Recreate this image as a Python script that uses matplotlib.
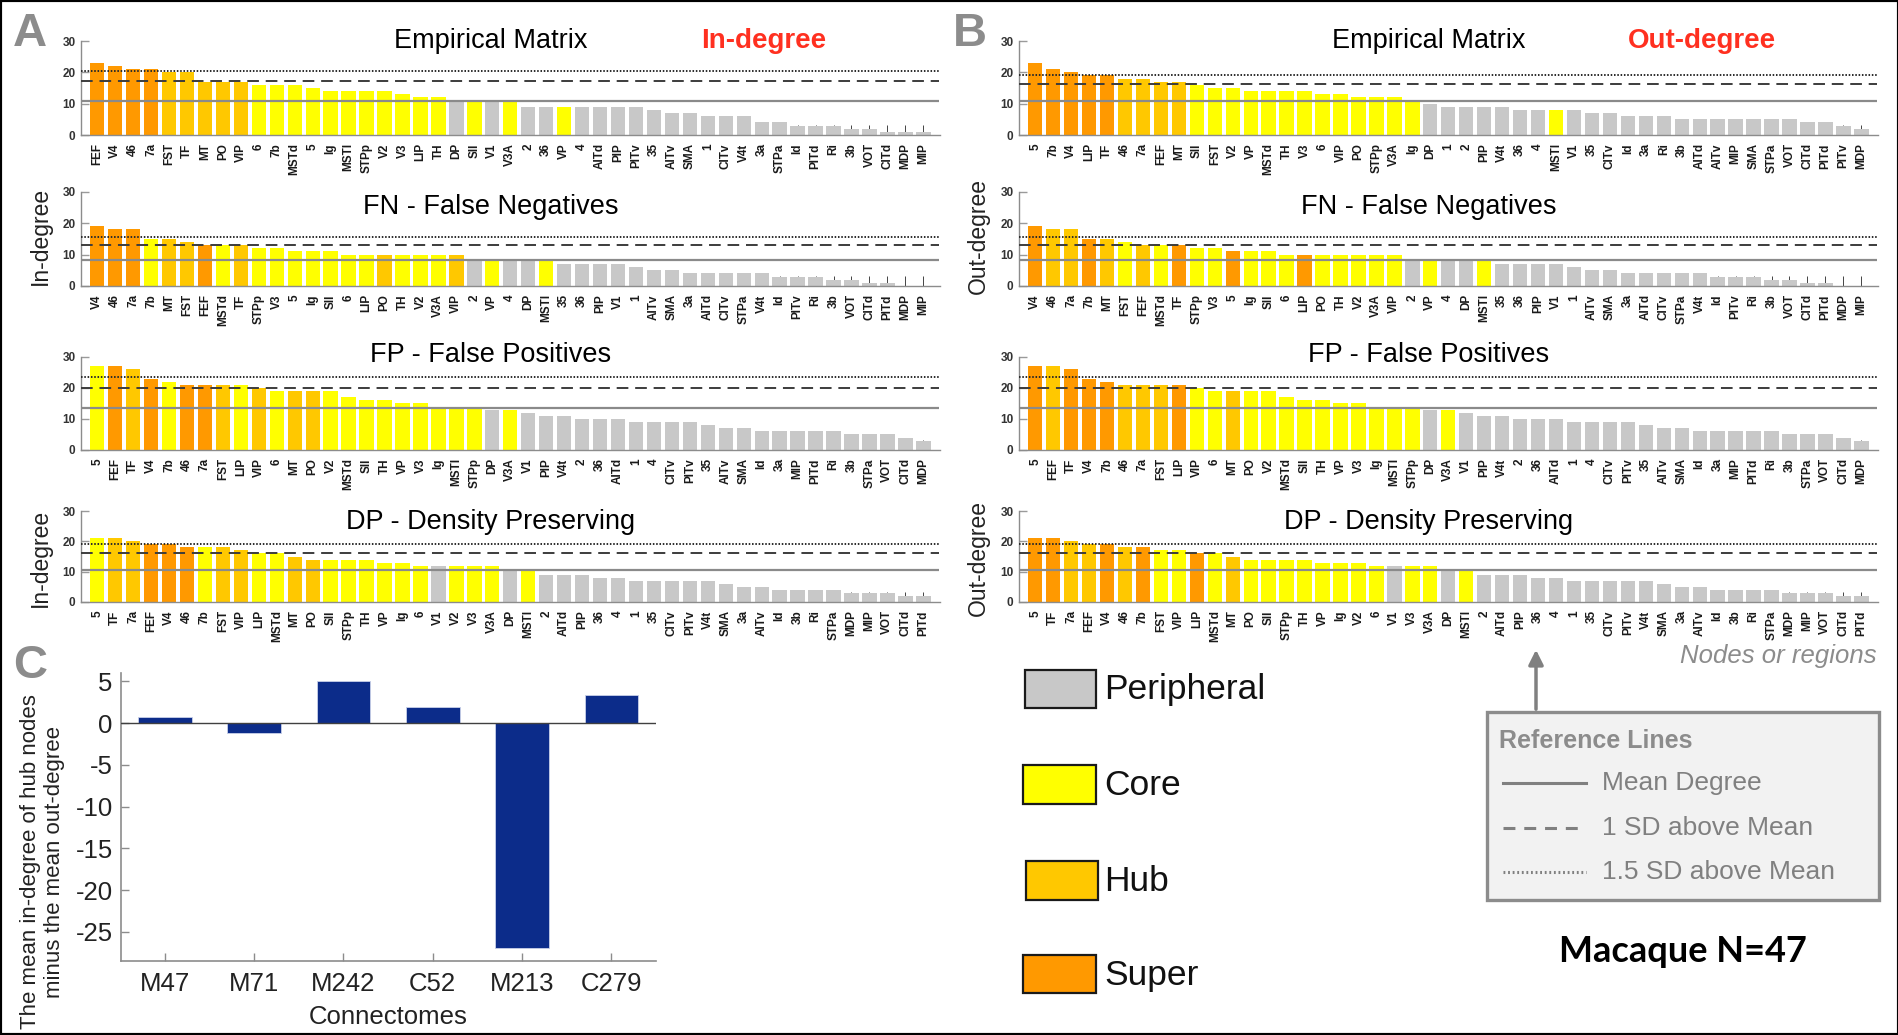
import numpy as np
import matplotlib
matplotlib.use("Agg")
import matplotlib.pyplot as plt
from matplotlib.patches import Rectangle, FancyArrowPatch
from matplotlib.lines import Line2D

plt.rcParams['font.family'] = ['Liberation Sans', 'DejaVu Sans']

W, H = 1899, 1035

# ---------------------------------------------------------------------------
# Node classes: S = super hub, H = hub, C = core, P = peripheral
CLASS_COLOURS = {'S': '#FF9900', 'H': '#FFC800', 'C': '#FFFF00', 'P': '#C8C8C8'}

# ---------------- A: in-degree ----------------
in_emp_regions = ["FEF", "V4", "46", "7a", "FST", "TF", "MT", "PO", "VIP", "6", "7b", "MSTd",
                  "5", "Ig", "MSTl", "STPp", "V2", "V3", "LIP", "TH", "DP", "SII", "V1", "V3A",
                  "2", "36", "VP", "4", "AITd", "PIP", "PITv", "35", "AITv", "SMA", "1", "CITv",
                  "V4t", "3a", "STPa", "Id", "PITd", "Ri", "3b", "VOT", "CITd", "MDP", "MIP"]
in_emp_values = [23, 22, 21, 21, 20, 20, 17, 17, 17, 16, 16, 16, 15, 14, 14, 14, 14, 13, 12, 12,
                 11, 11, 11, 11, 9, 9, 9, 9, 9, 9, 9, 8, 7, 7, 6, 6, 6, 4, 4, 3, 3, 3, 2, 2, 1, 1, 1]
in_emp_class = "SSSSHHHHHCCCCCCCCCCCPCPCPPCPPPPPPPPPPPPPPPPPPPP"
in_emp_ref = [11.0, 17.2, 20.3]

in_fn_regions = ["V4", "46", "7a", "7b", "MT", "FST", "FEF", "MSTd", "TF", "STPp", "V3", "5",
                 "Ig", "SII", "6", "LIP", "PO", "TH", "V2", "V3A", "VIP", "2", "VP", "4", "DP",
                 "MSTl", "35", "36", "PIP", "V1", "1", "AITv", "SMA", "3a", "AITd", "CITv", "STPa",
                 "V4t", "Id", "PITv", "Ri", "3b", "VOT", "CITd", "PITd", "MDP", "MIP"]
in_fn_values = [19, 18, 18, 15, 15, 14, 13, 13, 13, 12, 12, 11, 11, 11, 10, 10, 10, 10, 10, 10,
                10, 8, 8, 8, 8, 8, 7, 7, 7, 7, 6, 5, 5, 4, 4, 4, 4, 4, 3, 3, 3, 2, 2, 1, 1, 0, 0]
in_fn_class = "SSSCHHSCHCCCCCCCHCCCHPCPPCPPPPPPPPPPPPPPPPPPPPP"
in_fn_ref = [8.2, 13.1, 15.6]

in_fp_regions = ["5", "FEF", "TF", "V4", "7b", "46", "7a", "FST", "LIP", "VIP", "6", "MT", "PO",
                 "V2", "MSTd", "SII", "TH", "VP", "V3", "Ig", "MSTl", "STPp", "DP", "V3A", "V1",
                 "PIP", "V4t", "2", "36", "AITd", "1", "4", "CITv", "PITv", "35", "AITv", "SMA",
                 "Id", "3a", "MIP", "PITd", "Ri", "3b", "STPa", "VOT", "CITd", "MDP"]
in_fp_values = [27, 27, 26, 23, 22, 21, 21, 21, 21, 20, 19, 19, 19, 19, 17, 16, 16, 15, 15, 14,
                14, 14, 13, 13, 12, 11, 11, 10, 10, 10, 9, 9, 9, 9, 8, 7, 7, 6, 6, 6, 6, 6, 5, 5,
                5, 4, 3]
in_fp_class = "CSHSCSSHCHCHHCCCCCCCCCPCPPPPPPPPPPPPPPPPPPPPPPP"
in_fp_ref = [13.4, 20.1, 23.4]

in_dp_regions = ["5", "TF", "7a", "FEF", "V4", "46", "7b", "FST", "VIP", "LIP", "MSTd", "MT",
                 "PO", "SII", "STPp", "TH", "VP", "Ig", "6", "V1", "V2", "V3", "V3A", "DP", "MSTl",
                 "2", "AITd", "PIP", "36", "4", "1", "35", "CITv", "PITv", "V4t", "SMA", "3a",
                 "AITv", "Id", "3b", "Ri", "STPa", "MDP", "MIP", "VOT", "CITd", "PITd"]
in_dp_values = [21, 21, 20, 19, 19, 18, 18, 18, 17, 16, 16, 15, 14, 14, 14, 14, 13, 13, 12, 12,
                12, 12, 12, 11, 11, 9, 9, 9, 8, 8, 7, 7, 7, 7, 7, 6, 5, 5, 4, 4, 4, 4, 3, 3, 3,
                2, 2]
in_dp_class = "CHHSSSCHHCCHHCCCCCCPCCCPCPPPPPPPPPPPPPPPPPPPPPP"
in_dp_ref = [10.7, 16.2, 19.0]

# ---------------- B: out-degree ----------------
out_emp_regions = ["5", "7b", "V4", "LIP", "TF", "46", "7a", "FEF", "MT", "SII", "FST", "V2",
                   "VP", "MSTd", "TH", "V3", "6", "VIP", "PO", "STPp", "V3A", "Ig", "DP", "1",
                   "2", "PIP", "V4t", "36", "4", "MSTl", "V1", "35", "CITv", "Id", "3a", "Ri",
                   "3b", "AITd", "AITv", "MIP", "SMA", "STPa", "VOT", "CITd", "PITd", "PITv", "MDP"]
out_emp_values = [23, 21, 20, 19, 19, 18, 18, 17, 17, 16, 15, 15, 14, 14, 14, 14, 13, 13, 12, 12,
                  12, 11, 10, 9, 9, 9, 9, 8, 8, 8, 8, 7, 7, 6, 6, 6, 5, 5, 5, 5, 5, 5, 5, 4, 4,
                  3, 2]
out_emp_class = "SSSSSHHHHCCCCCCCCCCCCCPPPPPPPCPPPPPPPPPPPPPPPPP"
out_emp_ref = [11.0, 16.4, 19.3]

out_fn_regions = in_fn_regions
out_fn_values = in_fn_values
out_fn_class = "SHHSHCHCSCCSCCCSCCCCCPCPPCPPPPPPPPPPPPPPPPPPPPP"
out_fn_ref = [8.2, 13.1, 15.6]

out_fp_regions = in_fp_regions
out_fp_values = in_fp_values
out_fp_class = "SHSSSHHHSCCHCCCCCCCCCCPCPPPPPPPPPPPPPPPPPPPPPPP"
out_fp_ref = [13.4, 20.1, 23.4]

out_dp_regions = ["5", "TF", "7a", "FEF", "V4", "46", "7b", "FST", "VIP", "LIP", "MSTd", "MT",
                  "PO", "SII", "STPp", "TH", "VP", "Ig", "V2", "6", "V1", "V3", "V3A", "DP", "MSTl",
                  "2", "AITd", "PIP", "36", "4", "1", "35", "CITv", "PITv", "V4t", "SMA", "3a",
                  "AITv", "Id", "3b", "Ri", "STPa", "MDP", "MIP", "VOT", "CITd", "PITd"]
out_dp_values = [21, 21, 20, 19, 19, 18, 18, 17, 17, 16, 16, 15, 14, 14, 14, 14, 13, 13, 13, 12,
                 12, 12, 12, 11, 11, 9, 9, 9, 8, 8, 7, 7, 7, 7, 7, 6, 5, 5, 4, 4, 4, 4, 3, 3, 3,
                 2, 2]
out_dp_class = "SSHHSHSCCSCHCCCCCCCCPCCPCPPPPPPPPPPPPPPPPPPPPPP"
out_dp_ref = [10.7, 16.2, 19.0]

row_titles = ["Empirical Matrix", "FN - False Negatives", "FP - False Positives",
              "DP - Density Preserving"]
row_title_y = [30.0, 25.0, 30.5, 26.5]

# ---------------- C: hub in-degree minus out-degree ----------------
connectomes = ["M47", "M71", "M242", "C52", "M213", "C279"]
hub_in_minus_out = [0.7, -1.2, 5.0, 1.9, -26.9, 3.4]

legend_classes = ["Peripheral", "Core", "Hub", "Super"]
legend_codes = ["P", "C", "H", "S"]
ref_line_labels = ["Mean Degree", "1 SD above Mean", "1.5 SD above Mean"]


def fx(px):
    return px / W


def fy(py):
    return 1 - py / H


fig = plt.figure(figsize=(W / 100, H / 100), dpi=100)

# pixel rows (top, bottom) of the four bar panels
rows_px = [(41, 135), (191.5, 286), (357, 450), (511, 602)]
col_left_px = [81, 1019]
axes_w_px = 858.5

panel_a = [(in_emp_regions, in_emp_values, in_emp_class, in_emp_ref),
           (in_fn_regions, in_fn_values, in_fn_class, in_fn_ref),
           (in_fp_regions, in_fp_values, in_fp_class, in_fp_ref),
           (in_dp_regions, in_dp_values, in_dp_class, in_dp_ref)]
panel_b = [(out_emp_regions, out_emp_values, out_emp_class, out_emp_ref),
           (out_fn_regions, out_fn_values, out_fn_class, out_fn_ref),
           (out_fp_regions, out_fp_values, out_fp_class, out_fp_ref),
           (out_dp_regions, out_dp_values, out_dp_class, out_dp_ref)]


def draw_degree_row(ax, regions, values, classes, ref, title, title_y):
    x = np.arange(1, len(values) + 1)
    ax.bar(x, values, width=0.8, color=[CLASS_COLOURS[c] for c in classes],
           edgecolor='none', zorder=1)
    ax.set_axisbelow(True)
    ax.set_xlim(0.1, 47.9)
    ax.set_ylim(0, 30)
    ax.set_xticks(x)
    ax.set_xticklabels(regions, rotation=90, fontsize=8.5, fontweight='bold', color='#1a1a1a')
    ax.set_yticks([0, 10, 20, 30])
    ax.set_yticklabels(['0', '10', '20', '30'], fontsize=8.5, fontweight='bold', color='#333333')
    ax.tick_params(axis='x', direction='in', length=7, width=0.7, color='#444444', pad=6)
    ax.tick_params(axis='y', direction='in', length=6, width=1.0, color='#9a9a9a', pad=4)
    for s in ('top', 'right'):
        ax.spines[s].set_visible(False)
    for s in ('left', 'bottom'):
        ax.spines[s].set_color('#8c8c8c')
        ax.spines[s].set_linewidth(1.0)
    mean, sd1, sd15 = ref
    ax.axhline(mean, color='#8a8a8a', lw=1.6, zorder=3)
    l2 = ax.axhline(sd1, color='#3c3c3c', lw=1.4, zorder=3)
    l2.set_dashes((6, 3.5))
    l3 = ax.axhline(sd15, color='#2a2a2a', lw=1.4, zorder=3)
    l3.set_dashes((0.8, 0.9))
    ax.text(22.9, title_y, title, ha='center', va='center', fontsize=19.5, color='black')


for col, (left_px, panel) in enumerate(zip(col_left_px, [panel_a, panel_b])):
    for r, ((top, bot), data) in enumerate(zip(rows_px, panel)):
        ax = fig.add_axes([fx(left_px), fy(bot), axes_w_px / W, (bot - top) / H])
        draw_degree_row(ax, *data, row_titles[r], row_title_y[r])
        if r == 0:
            ax.text(38.1, 30.0, "In-degree" if col == 0 else "Out-degree", ha='center',
                    va='center', fontsize=20, fontweight='bold', color='#FF3020')

# y-axis captions
for ypx in (236, 558):
    fig.text(fx(40), fy(ypx), "In-degree", rotation=90, ha='center', va='center',
             fontsize=16.5, color='#222222')
    fig.text(fx(978), fy(ypx), "Out-degree", rotation=90, ha='center', va='center',
             fontsize=16.5, color='#222222')

# ---------------- panel C ----------------
axc = fig.add_axes([fx(121), fy(961), (656 - 121) / W, (961 - 673) / H])
xc = np.arange(1, len(connectomes) + 1)
axc.bar(xc, hub_in_minus_out, width=0.6, color='#0C2C8A', edgecolor='#c8d0e8',
        linewidth=0.6, zorder=2)
axc.axhline(0, color='#404040', lw=1.0, zorder=3)
axc.set_xlim(0.51, 6.5)
axc.set_ylim(-28.5, 6)
axc.set_xticks(xc)
axc.set_xticklabels(connectomes, fontsize=18.5, color='#222222')
axc.set_yticks([5, 0, -5, -10, -15, -20, -25])
axc.set_yticklabels(['5', '0', '-5', '-10', '-15', '-20', '-25'], fontsize=18.5,
                    color='#222222')
axc.tick_params(axis='both', direction='in', length=6, width=1.0, color='#8c8c8c')
axc.tick_params(axis='x', pad=8)
axc.tick_params(axis='y', pad=6)
for s in ('top', 'right'):
    axc.spines[s].set_visible(False)
for s in ('left', 'bottom'):
    axc.spines[s].set_color('#8c8c8c')
    axc.spines[s].set_linewidth(1.2)
fig.text(fx(388), fy(1017), "Connectomes", ha='center', va='center', fontsize=18.5,
         color='#222222')
fig.text(fx(31), fy(862), "The mean in-degree of hub nodes", rotation=90, ha='center',
         va='center', fontsize=16, color='#222222')
fig.text(fx(55), fy(862), "minus the mean out-degree", rotation=90, ha='center',
         va='center', fontsize=16, color='#222222')

# ---------------- class legend ----------------
legend_boxes_px = [(1025, 670, 1096, 708), (1023, 765, 1096, 804),
                   (1026, 861, 1098, 900), (1023, 955, 1096, 993)]
for name, code, (x0, y0, x1, y1) in zip(legend_classes, legend_codes, legend_boxes_px):
    fig.add_artist(Rectangle((fx(x0), fy(y1)), (x1 - x0) / W, (y1 - y0) / H,
                             transform=fig.transFigure, facecolor=CLASS_COLOURS[code],
                             edgecolor='#1a1a1a', lw=1.6))
    fig.text(fx(1104), fy((y0 + y1) / 2 + 1), name, ha='left', va='center', fontsize=25.5,
             color='#111111')

# ---------------- reference line key ----------------
fig.add_artist(Rectangle((fx(1487), fy(900)), (1879 - 1487) / W, (900 - 712) / H,
                         transform=fig.transFigure, facecolor='#F2F2F2',
                         edgecolor='#8c8c8c', lw=2.4))
fig.text(fx(1499), fy(741), "Reference Lines", ha='left', va='center', fontsize=18,
         fontweight='bold', color='#8c8c8c')
key_y = [783, 828, 872]
key_dashes = [None, (3.9, 2.9), (0.6, 0.9)]
for label, ypx, dashes in zip(ref_line_labels, key_y, key_dashes):
    ln = Line2D([fx(1503), fx(1586)], [fy(ypx), fy(ypx)], transform=fig.transFigure,
                color='#808080', lw=2.2)
    if dashes is not None:
        ln.set_dashes(dashes)
    fig.add_artist(ln)
    fig.text(fx(1602), fy(ypx), label, ha='left', va='center', fontsize=19, color='#808080')

fig.add_artist(FancyArrowPatch((fx(1536), fy(712)), (fx(1536), fy(647)),
                               transform=fig.transFigure, arrowstyle='-|>',
                               mutation_scale=22, color='#808080', lw=2.5))
fig.text(fx(1877), fy(656), "Nodes or regions", ha='right', va='center', fontsize=18.5,
         style='italic', color='#8c8c8c')
fig.text(fx(1683), fy(951), "Macaque N=47", ha='center', va='center', fontsize=26,
         fontweight='bold', color='black', family=['Lato', 'DejaVu Sans'])

# ---------------- panel letters ----------------
for letter, (xpx, ypx) in zip("ABC", [(13, 12), (953, 12), (13, 644)]):
    fig.text(fx(xpx), fy(ypx), letter, ha='left', va='top', fontsize=34, fontweight='bold',
             color='#8c8c8c')

# outer frame
fig.add_artist(Rectangle((0, 0), 1, 1, transform=fig.transFigure, fill=False,
                         edgecolor='black', lw=3))

fig.savefig('out.png', dpi=100)
